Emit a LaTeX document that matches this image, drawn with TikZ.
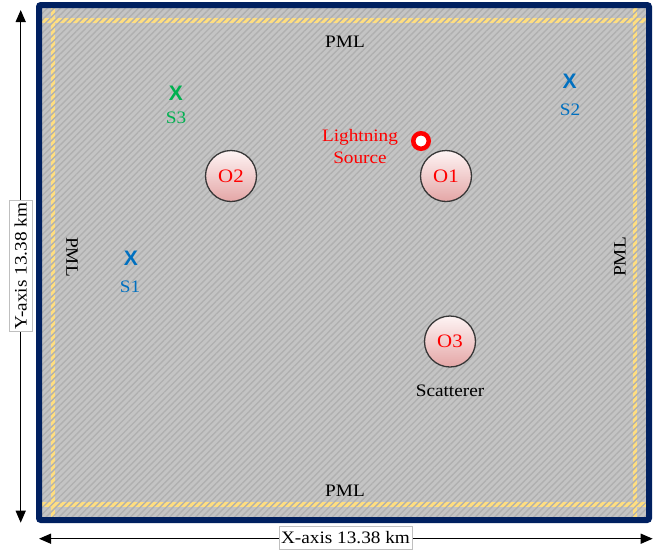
\documentclass[tikz,border=0pt]{standalone}
\usepackage{fontspec}
\setmainfont{Liberation Serif}[FakeStretch=1.1]
\newfontfamily\xmarkfont{Liberation Sans}
\usetikzlibrary{patterns.meta,arrows.meta}
\definecolor{navy}{RGB}{0,32,96}
\definecolor{pmlyellow}{RGB}{255,222,128}
\definecolor{bggray}{RGB}{196,196,196}
\definecolor{stripe}{RGB}{176,176,176}
\definecolor{sblue}{RGB}{0,112,192}
\definecolor{sgreen}{RGB}{0,176,80}
\definecolor{objtop}{RGB}{254,244,244}
\definecolor{objbot}{RGB}{228,166,166}
\definecolor{objline}{RGB}{55,55,55}
\newcommand\mylbl{\fontsize{17.5}{20}\selectfont}
\tikzset{
  pmlline/.style={pmlyellow, line width=4.5pt},
  axisarrow/.style={line width=1.3pt, {Triangle[length=12pt,width=10pt]}-{Triangle[length=12pt,width=10pt]}},
  axislabel/.style={draw=black!25, line width=0.6pt, fill=white, font=\mylbl, inner xsep=2pt, inner ysep=1pt, minimum height=23pt},
  pmltext/.style={font=\mylbl, text=black},
  obj/.style={circle, draw=objline, line width=1.3pt, minimum size=51pt, inner sep=0pt,
    top color=objtop, bottom color=objbot, text=red, font=\fontsize{19}{22}\selectfont},
  xmark/.style={font=\xmarkfont\bfseries\fontsize{21}{24}\selectfont, inner sep=0pt},
  slabel/.style={font=\mylbl, inner sep=0pt},
}
\begin{document}
\begin{tikzpicture}[x=1pt,y=-1pt]
\useasboundingbox (0,0) rectangle (667,550);
% domain
\fill[bggray] (39,5) rectangle (649,520);
\draw[pmlline] (42,20.5) -- (646,20.5);
\draw[pmlline] (42,504.5) -- (646,504.5);
\draw[pmlline] (53,8) -- (53,517);
\draw[pmlline] (635,8) -- (635,517);
\fill[pattern={Lines[angle=45,distance=4.6pt,line width=1.4pt]}, pattern color=stripe] (39,5) rectangle (649,520);
\draw[navy, line width=6pt, rounded corners=2pt] (39,5) rectangle (649,520);
% PML labels
\node[pmltext] (pmltop) at (345,42) {PML};
\node[pmltext] (pmlbot) at (345,491) {PML};
\node[pmltext, rotate=-90] (pmlleft) at (72,257) {PML};
\node[pmltext, rotate=90] (pmlright) at (620,257) {PML};
% axes
\coordinate (yt) at (20.7,10);
\coordinate (yb) at (20.7,522.7);
\coordinate (xl) at (39,538.7);
\coordinate (xr) at (652.7,538.7);
\draw[axisarrow] (yt) -- (yb);
\draw[axisarrow] (xl) -- (xr);
\node[axislabel, rotate=90] (ylab) at (20.7,266) {Y-axis 13.38 km};
\node[axislabel] (xlab) at (345.5,537.5) {X-axis 13.38 km};
% sensors
\node[xmark, text=sgreen] (s3x) at (176,93) {X};
\node[slabel, text=sgreen] (s3) at (176,118) {S3};
\node[xmark, text=sblue] (s1x) at (131,258) {X};
\node[slabel, text=sblue] (s1) at (130,287) {S1};
\node[xmark, text=sblue] (s2x) at (569.5,81) {X};
\node[slabel, text=sblue] (s2) at (570,110) {S2};
% objects
\node[obj] (o2) at (231,176) {O2};
\node[obj] (o1) at (446,176) {O1};
\node[obj] (o3) at (450,341.5) {O3};
\node[font=\mylbl, inner sep=0pt] (scat) at (450,391) {Scatterer};
% lightning source
\node[circle, draw=red, line width=4.5pt, fill=white, minimum size=15.5pt, inner sep=0pt] (ls) at (421,141) {};
\node[font=\mylbl, text=red, align=center, inner sep=0pt] (lstext) at (360,146.5) {Lightning\\[2pt]Source};
\end{tikzpicture}
\end{document}
